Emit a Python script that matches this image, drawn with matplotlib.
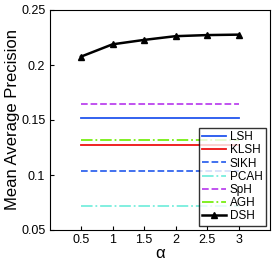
import matplotlib
matplotlib.use("Agg")
import matplotlib.pyplot as plt

# alpha values and MAP for each method
alpha = [0.5, 1, 1.5, 2, 2.5, 3]
dsh = [0.2076, 0.2188, 0.2228, 0.2262, 0.2272, 0.2276]
lsh = 0.1518
klsh = 0.1276
sikh = 0.1039
pcah = 0.0721
sph = 0.1645
agh = 0.1315

plt.rcParams['font.family'] = ['Liberation Sans', 'DejaVu Sans']

fig = plt.figure(figsize=(2.78, 2.65), dpi=100)
ax = fig.add_axes([49.5/278, 35/265, 220.5/278, 220/265])

n = len(alpha)
ax.plot(alpha, [lsh]*n, color='#2255ee', linestyle='-', lw=1.3, label='LSH')
ax.plot(alpha, [klsh]*n, color='#ee1111', linestyle='-', lw=1.3, label='KLSH')
ax.plot(alpha, [sikh]*n, color='#3366ee', linestyle='--', lw=1.3, label='SIKH')
ax.plot(alpha, [pcah]*n, color='#77eedd', linestyle='-.', lw=1.3, label='PCAH')
ax.plot(alpha, [sph]*n, color='#bb44ee', linestyle='--', lw=1.3, label='SpH')
ax.plot(alpha, [agh]*n, color='#77ee11', linestyle='-.', lw=1.3, label='AGH')
ax.plot(alpha, dsh, color='black', linestyle='-', lw=1.8, marker='^', markersize=5, label='DSH')

ax.set_xlim(0, 3.5)
ax.set_ylim(0.05, 0.25)
ax.set_xticks(alpha)
ax.set_xticklabels(['0.5', '1', '1.5', '2', '2.5', '3'])
ax.set_yticks([0.05, 0.1, 0.15, 0.2, 0.25])
ax.set_yticklabels(['0.05', '0.1', '0.15', '0.2', '0.25'])
ax.tick_params(labelsize=9, direction='in', length=3, top=False, right=False, pad=3)
ax.set_xlabel('α', fontsize=12, labelpad=0)
ax.set_ylabel('Mean Average Precision', fontsize=12, labelpad=1)

leg = ax.legend(loc='lower right', fontsize=8.5, frameon=True, fancybox=False,
                edgecolor='black', handlelength=2.0, handletextpad=0.3,
                labelspacing=0.1, borderpad=0.3, borderaxespad=0.35)
leg.get_frame().set_linewidth(1.0)

fig.savefig('out.png', dpi=100)
